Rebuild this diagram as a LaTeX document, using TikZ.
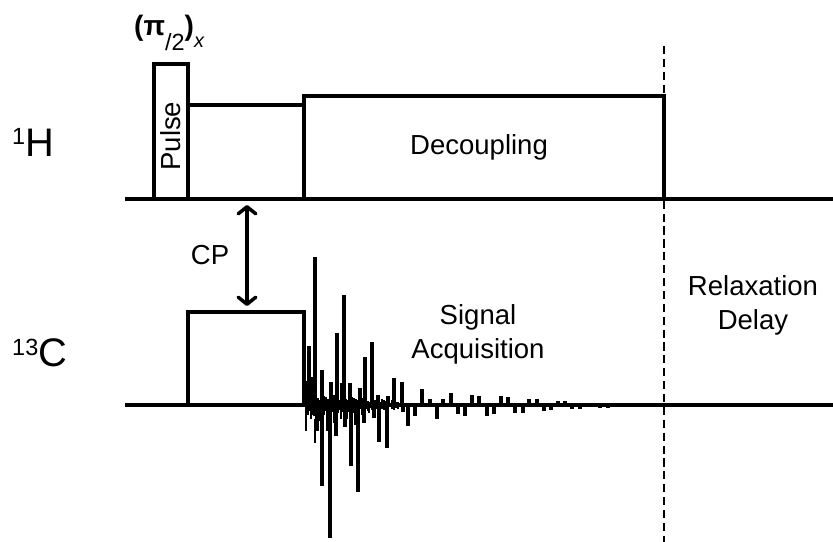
\documentclass[tikz,border=0pt]{standalone}
\usepackage{fontspec}
\setmainfont{Liberation Sans}
\usetikzlibrary{arrows.meta}

\begin{document}
\begin{tikzpicture}[
  x=0.03cm, y=-0.03cm,
  lbl/.style={align=center, font=\fontsize{23.5}{29}\selectfont},
  nuc/.style={anchor=base west, inner sep=0pt, font=\fontsize{34}{38}\selectfont},
  pulsebox/.style={draw, line width=3pt, anchor=south west, outer sep=0pt, inner sep=0pt, lbl},
  axis/.style={line width=3pt},
  arr/.style={{Straight Barb[length=6pt,width=15pt,round]}-{Straight Barb[length=6pt,width=15pt,round]}, line width=3pt},
  spike/.style={line width=2.6pt},
  fuzz/.style={line width=2.2pt},
]
  \useasboundingbox (0,0) rectangle (833,542);

  % Axes
  \coordinate (hstart) at (125,199);
  \coordinate (hend) at (833,199);
  \coordinate (cstart) at (125,405);
  \coordinate (cend) at (833,405);
  \draw[axis] (hstart) -- (hend);
  \draw[axis] (cstart) -- (cend);

  % Proton channel
  \node[pulsebox, minimum width=1.02cm, minimum height=4.05cm] (pulse) at (154,199) {\rotatebox{90}{Pulse\hspace{8pt}}};
  \node[pulsebox, minimum width=3.48cm, minimum height=2.82cm] (contact) at (188,199) {};
  \node[pulsebox, minimum width=10.8cm, minimum height=3.09cm] (decoupling) at (304,199) {};
  \node[lbl] (declabel) at (479,147) {Decoupling};

  % Carbon channel
  \node[pulsebox, minimum width=3.48cm, minimum height=2.79cm] (cpbox) at (188,405) {};

  % Channel labels
  \node[nuc] (hlabel) at (12,157) {\raisebox{11pt}{\fontsize{20}{24}\selectfont 1}H};
  \node[nuc] (clabel) at (12,367) {\raisebox{10pt}{\fontsize{20}{24}\selectfont 13}C};
  \node[font=\fontsize{24}{30}\selectfont\bfseries, anchor=base west, inner sep=0pt] (angle) at (134,36)
    {(π\raisebox{-12pt}{\fontsize{20}{24}\selectfont\mdseries /2})\raisebox{-10pt}{\fontsize{17}{22}\selectfont\mdseries\itshape x}};

  % CP transfer
  \coordinate (cptop) at (247,205);
  \coordinate (cpbot) at (247,306);
  \draw[arr] (cptop) -- (cpbot);
  \node[lbl] (cplabel) at (210,255) {CP};

  % Signal
  \foreach \x/\y in {309/346,312/377,315/257,322/370,331/382,337/333,344/295,350/383,360/388,365/357,372/342,378/395,388/396,394/378,402/382,422/389,430/399,443/399,451/393,472/395,479/396,501/396,508/397,529/399,537/399,558/401,565/401,
                     312/415,317/431,322/486,330/538,336/436,345/427,351/466,358/492,364/423,374/418,379/442,387/448,403/412,408/426,415/416,437/419,458/414,465/416,487/416,494/414,515/413,523/413,544/411,551/410,572/409,580/409,600/408,608/408}
    \draw[spike] (\x,405) -- (\x,\y);
  % noise on the baseline
  \foreach \x in {306,308,...,400}
    \draw[fuzz] (\x,{405-(4+mod(\x*7,5))*(1.5-(\x-306)/94)}) -- (\x,{405+(4+mod(\x*11,5))*(1.5-(\x-306)/94)});
  \foreach \x/\y/\z in {306/345/470,311/405/440,315/440/500,319/395/445,327/400/470,334/380/450,341/350/440,347/395/440,355/395/455,362/405/430,369/400/425}
    \draw[fuzz] (\x,{405-(405-\y)*0.4}) -- (\x,{405+(\z-405)*0.4});

  % Relaxation
  \coordinate (dashtop) at (664,46);
  \coordinate (dashbot) at (664,542);
  \draw[line width=1.4pt, dash pattern=on 7pt off 4pt] (dashtop) -- (dashbot);
  \node[lbl] (acqlabel) at (478,334) {Signal\\Acquisition};
  \node[lbl] (relaxlabel) at (753,305) {Relaxation\\Delay};
\end{tikzpicture}
\end{document}
